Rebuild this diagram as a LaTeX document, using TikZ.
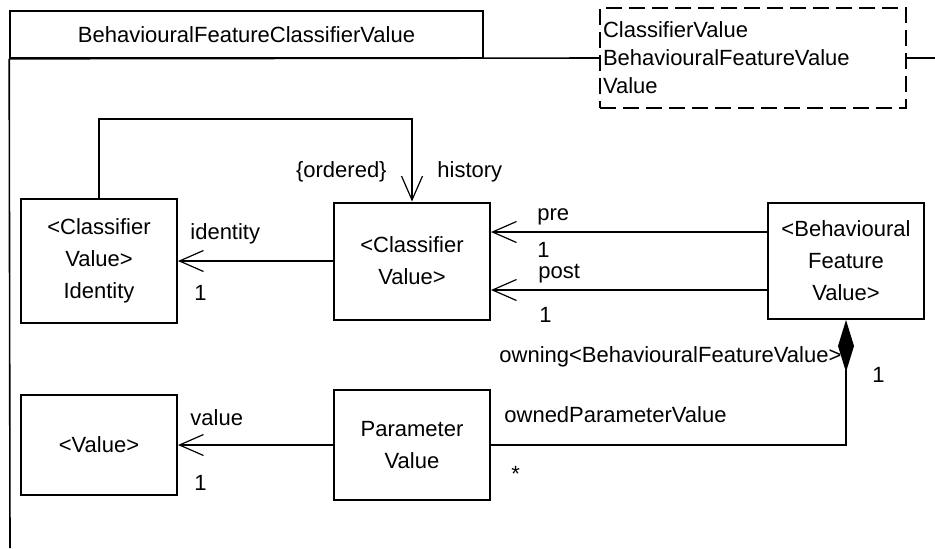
\documentclass[tikz,border=0pt]{standalone}
\usepackage{fontspec}
\setmainfont{Liberation Sans}
\usepackage{tikz}
\usetikzlibrary{arrows.meta, positioning}
\tikzstyle{classbox} = [rectangle, draw=black, line width=1pt, minimum width=78pt, align=center, inner sep=2pt]
\tikzstyle{assoc} = [line width=0.6pt, -{Straight Barb[length=12pt, width=10.5pt]}]
\tikzstyle{owns} = [line width=0.6pt, -{Diamond[length=26pt, width=8pt]}]
\tikzstyle{role} = [inner sep=0pt, anchor=base west]
\tikzstyle{frameline} = [line width=0.8pt]

\begin{document}
\begin{tikzpicture}[x=0.5pt, y=-0.5pt, font=\fontsize{11}{16}\selectfont]
        \useasboundingbox (0,0) rectangle (935,548);

        \node (title) [rectangle, draw, line width=0.8pt, minimum width=236.5pt, minimum height=23.5pt] at (246.5,34.5) {BehaviouralFeatureClassifierValue};
        \node (imports) [rectangle, draw, dash pattern=on 8pt off 3.5pt, line width=0.6pt, text width=150pt, inner sep=1.5pt, minimum height=50pt, align=left, font=\fontsize{11}{14}\selectfont] at (753,58) {ClassifierValue\\BehaviouralFeatureValue\\Value};
        \coordinate (framebottom) at (10,548);
        \coordinate (frameright) at (935,58);

        \node (identity) [classbox, minimum height=62pt] at (99,261) {<Classifier\\Value>\\Identity};
        \node (cv) [classbox, minimum height=58.5pt, right=77.5pt of identity] {<Classifier\\Value>};
        \node (bfv) [classbox, minimum height=58pt, right=138pt of cv] {<Behavioural\\Feature\\Value>};
        \node (value) [classbox, minimum height=50pt, below=35pt of identity] {<Value>};
        \node (param) [classbox, minimum height=55pt, right=77.5pt of value] {Parameter\\Value};

        \draw [frameline] (title.south west) -- (framebottom);
        \draw [frameline] (title.south west) -- (imports.west);
        \draw [frameline] (imports.east) -- (frameright);

        \draw [assoc] (cv.west) -- (identity.east);
        \draw [assoc] (identity.north) -- ++(0,-79) -| (cv.north);
        \draw [assoc] ([yshift=14.5pt]bfv.west) -- ([yshift=14.5pt]cv.east);
        \draw [assoc] ([yshift=-14.5pt]bfv.west) -- ([yshift=-14.5pt]cv.east);
        \draw [assoc] (param.west) -- (value.east);
        \draw [owns] (param.east) -| (bfv.south);

        % role names and multiplicities
        \node (orderedtag) [role, anchor=base east] at (387,177) {\{ordered\}};
        \node (historyrole) [role] at (437,177) {history};
        \node (identityrole) [role] at (190,239) {identity};
        \node (identitymult) [role] at (194,300) {1};
        \node (prerole) [role] at (537,220) {pre};
        \node (premult) [role] at (537,257) {1};
        \node (postrole) [role] at (538,278) {post};
        \node (postmult) [role] at (539,322) {1};
        \node (valuerole) [role] at (190,425) {value};
        \node (valuemult) [role] at (194,490) {1};
        \node (owningrole) [role] at (499,362) {owning<BehaviouralFeatureValue>};
        \node (owningmult) [role] at (872,382) {1};
        \node (ownedrole) [role] at (504,422) {ownedParameterValue};
        \node (ownedmult) [role] at (511,481) {*};
    \end{tikzpicture}
\end{document}
